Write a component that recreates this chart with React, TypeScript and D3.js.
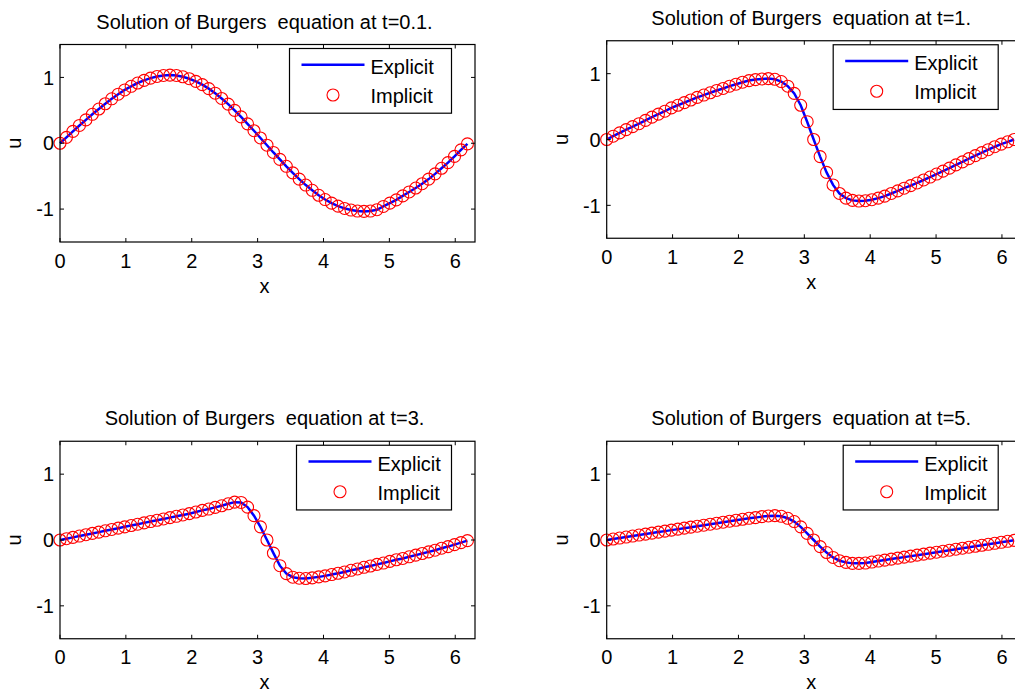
import React from "react";
import * as d3 from "d3";

// grid points (x) shared by all four snapshots
const X_GRID = [
  0.000, 0.098, 0.196, 0.295, 0.393, 0.491, 0.589, 0.687, 0.785, 0.884,
  0.982, 1.080, 1.178, 1.276, 1.374, 1.473, 1.571, 1.669, 1.767, 1.865,
  1.963, 2.062, 2.160, 2.258, 2.356, 2.454, 2.553, 2.651, 2.749, 2.847,
  2.945, 3.043, 3.142, 3.240, 3.338, 3.436, 3.534, 3.632, 3.731, 3.829,
  3.927, 4.025, 4.123, 4.221, 4.320, 4.418, 4.516, 4.614, 4.712, 4.811,
  4.909, 5.007, 5.105, 5.203, 5.301, 5.400, 5.498, 5.596, 5.694, 5.792,
  5.890, 5.989, 6.087, 6.185,
];

// u at t=0.1
const U_T01 = [
  0, 0.09, 0.18, 0.27, 0.355, 0.44, 0.52, 0.6, 0.675, 0.745,
  0.81, 0.865, 0.915, 0.955, 0.99, 1.015, 1.03, 1.035, 1.03, 1.01,
  0.98, 0.94, 0.89, 0.83, 0.76, 0.68, 0.595, 0.5, 0.4, 0.295,
  0.19, 0.08, -0.03, -0.14, -0.245, -0.35, -0.45, -0.545, -0.635, -0.715,
  -0.79, -0.855, -0.91, -0.955, -0.99, -1.015, -1.03, -1.035, -1.03, -1.01,
  -0.96, -0.91, -0.86, -0.8, -0.74, -0.68, -0.615, -0.545, -0.465, -0.38,
  -0.295, -0.2, -0.1, -0.01,
];

// u at t=1
const U_T1 = [
  0, 0.05, 0.1, 0.15, 0.195, 0.24, 0.29, 0.34, 0.385, 0.43,
  0.48, 0.52, 0.56, 0.6, 0.64, 0.675, 0.71, 0.745, 0.775, 0.81,
  0.84, 0.87, 0.895, 0.91, 0.92, 0.925, 0.915, 0.88, 0.81, 0.7,
  0.52, 0.27, 0, -0.26, -0.5, -0.69, -0.82, -0.89, -0.925, -0.935,
  -0.93, -0.915, -0.89, -0.86, -0.82, -0.78, -0.74, -0.7, -0.66, -0.615,
  -0.57, -0.525, -0.48, -0.435, -0.385, -0.34, -0.29, -0.245, -0.2, -0.155,
  -0.11, -0.07, -0.035, 0,
];

// u at t=3
const U_T3 = [
  0, 0.02, 0.04, 0.06, 0.08, 0.1, 0.12, 0.14, 0.16, 0.18,
  0.2, 0.22, 0.24, 0.26, 0.28, 0.3, 0.32, 0.34, 0.36, 0.38,
  0.4, 0.425, 0.45, 0.47, 0.495, 0.52, 0.55, 0.575, 0.57, 0.5,
  0.37, 0.2, 0, -0.2, -0.39, -0.51, -0.565, -0.58, -0.585, -0.575,
  -0.56, -0.545, -0.525, -0.505, -0.485, -0.46, -0.44, -0.415, -0.395, -0.37,
  -0.35, -0.325, -0.3, -0.28, -0.255, -0.23, -0.205, -0.18, -0.155, -0.125,
  -0.1, -0.07, -0.04, -0.01,
];

// u at t=5
const U_T5 = [
  0, 0.015, 0.03, 0.045, 0.06, 0.075, 0.09, 0.105, 0.12, 0.135,
  0.15, 0.165, 0.18, 0.195, 0.21, 0.225, 0.24, 0.255, 0.27, 0.285,
  0.3, 0.315, 0.33, 0.34, 0.355, 0.365, 0.37, 0.36, 0.33, 0.28,
  0.2, 0.1, 0, -0.1, -0.19, -0.265, -0.315, -0.34, -0.355, -0.355,
  -0.35, -0.335, -0.32, -0.305, -0.29, -0.275, -0.26, -0.245, -0.23, -0.215,
  -0.2, -0.185, -0.17, -0.155, -0.14, -0.125, -0.11, -0.095, -0.08, -0.065,
  -0.05, -0.035, -0.02, -0.005,
];

const X_TICKS = [0, 1, 2, 3, 4, 5, 6];
const Y_TICKS = [-1, 0, 1];
const TITLES = [
  "Solution of Burgers  equation at t=0.1.",
  "Solution of Burgers  equation at t=1.",
  "Solution of Burgers  equation at t=3.",
  "Solution of Burgers  equation at t=5.",
];
const LEGEND_LABELS = ["Explicit", "Implicit"];

const FONT = '"Liberation Sans", Arial, Helvetica, sans-serif';
const W = 1015;
const H = 693;
const AX_W = 415;
const AX_H = 197.5;

// explicit and implicit results coincide at plotting resolution
const PANELS = [
  { title: TITLES[0], explicit: U_T01, implicit: U_T01, left: 60, top: 44.5, legendW: 162 },
  { title: TITLES[1], explicit: U_T1, implicit: U_T1, left: 606.7, top: 40.75, legendW: 165 },
  { title: TITLES[2], explicit: U_T3, implicit: U_T3, left: 60, top: 441.25, legendW: 155 },
  { title: TITLES[3], explicit: U_T5, implicit: U_T5, left: 606.7, top: 441.25, legendW: 155 },
];

function Panel({ p }: { p: typeof PANELS[number] }) {
  const x = d3.scaleLinear().domain([0, 6.3]).range([p.left, p.left + AX_W]);
  const y = d3.scaleLinear().domain([-1.5, 1.5]).range([p.top + AX_H, p.top]);
  const right = p.left + AX_W;
  const bottom = p.top + AX_H;
  const cx = p.left + AX_W / 2 - 3;

  const line = d3.line<number>()
    .x((_, i) => x(X_GRID[i]))
    .y(d => y(d));

  const lgX = right - 23.5 - p.legendW;
  const lgY = p.top + 4;
  const tick = 4;

  return (
    <g>
      {/* title */}
      <text x={cx} y={p.top - 16} textAnchor="middle" fontSize={20}
        style={{ whiteSpace: "pre" }}>{p.title}</text>

      {/* data */}
      <path d={line(p.explicit) || ""} fill="none" stroke="#0000ff" strokeWidth={2.5} />
      {p.implicit.map((d, i) => (
        <circle key={i} cx={x(X_GRID[i])} cy={y(d)} r={6}
          fill="none" stroke="#ff0000" strokeWidth={1.1} />
      ))}

      {/* box */}
      <rect x={p.left} y={p.top} width={AX_W} height={AX_H}
        fill="none" stroke="#000" strokeWidth={1.2} />

      {/* x ticks */}
      {X_TICKS.map(t => (
        <g key={"x" + t}>
          <line x1={x(t)} x2={x(t)} y1={bottom} y2={bottom - tick} stroke="#000" />
          <line x1={x(t)} x2={x(t)} y1={p.top} y2={p.top + tick} stroke="#000" />
          <text x={x(t)} y={bottom + 25.5} textAnchor="middle" fontSize={20}>{t}</text>
        </g>
      ))}

      {/* y ticks */}
      {Y_TICKS.map(t => (
        <g key={"y" + t}>
          <line x1={p.left} x2={p.left + tick} y1={y(t)} y2={y(t)} stroke="#000" />
          <line x1={right} x2={right - tick} y1={y(t)} y2={y(t)} stroke="#000" />
          <text x={p.left - 6} y={y(t) + 7.2} textAnchor="end" fontSize={20}>{t}</text>
        </g>
      ))}

      {/* axis labels */}
      <text x={cx} y={bottom + 50.5} textAnchor="middle" fontSize={20}>x</text>
      <text transform={`translate(${p.left - 39},${p.top + AX_H / 2}) rotate(-90)`}
        textAnchor="middle" fontSize={20}>u</text>

      {/* legend */}
      <rect x={lgX} y={lgY} width={p.legendW} height={64.7}
        fill="#fff" stroke="#000" strokeWidth={1.2} />
      <line x1={lgX + 12} x2={lgX + 75} y1={lgY + 16.3} y2={lgY + 16.3}
        stroke="#0000ff" strokeWidth={2.5} />
      <text x={lgX + 81} y={lgY + 25.5} fontSize={20}>{LEGEND_LABELS[0]}</text>
      <circle cx={lgX + 43.5} cy={lgY + 46.5} r={6} fill="none" stroke="#ff0000" strokeWidth={1.1} />
      <text x={lgX + 81} y={lgY + 54.5} fontSize={20}>{LEGEND_LABELS[1]}</text>
    </g>
  );
}

export default function App() {
  return (
    <svg width={W} height={H} viewBox={`0 0 ${W} ${H}`}
      style={{ position: "absolute", left: 0, top: 0, background: "#fff" }}
      fontFamily={FONT} fill="#000">
      <rect x={0} y={0} width={W} height={H} fill="#fff" />
      {PANELS.map((p, i) => <Panel key={i} p={p} />)}
    </svg>
  );
}
